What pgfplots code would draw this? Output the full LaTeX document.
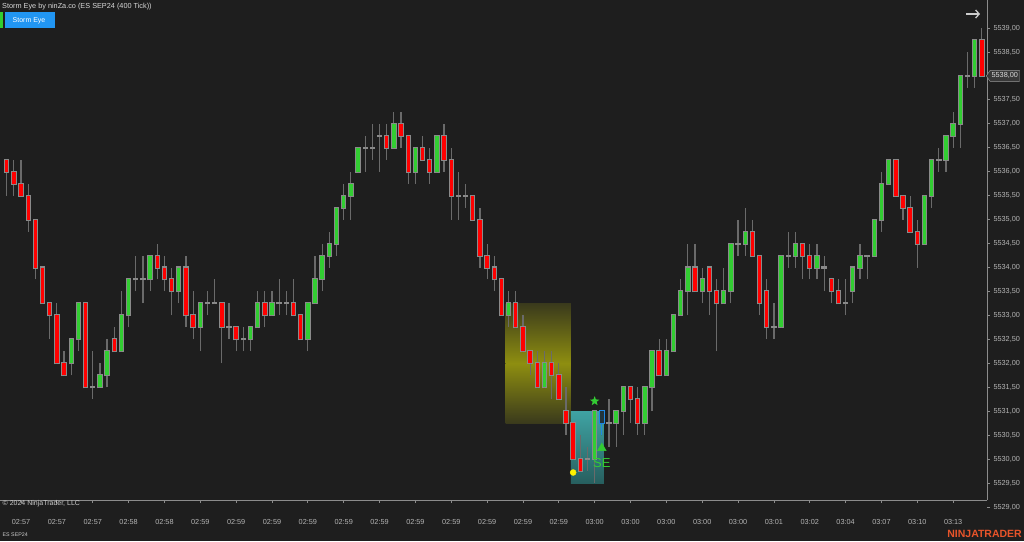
\documentclass[border=0pt]{standalone}
\usepackage{fontspec}
\setmainfont{Liberation Sans}
\usepackage{pgfplots}
\pgfplotsset{compat=1.18}
\usepackage{pgfplotstable}
\usetikzlibrary{arrows.meta,shapes.symbols}

\definecolor{bg}{HTML}{1E1E1E}
\definecolor{axisgray}{HTML}{8C8C8C}
\definecolor{lbl}{HTML}{B4B4B4}
\definecolor{upc}{HTML}{32CD32}
\definecolor{dnc}{HTML}{FF0000}
\definecolor{wickc}{HTML}{6A6A6A}
\definecolor{outl}{HTML}{8A8A8A}
\definecolor{bluec}{HTML}{1E88E5}
\definecolor{blueinner}{HTML}{22343C}
\definecolor{btnblue}{HTML}{2196F3}
\definecolor{logoc}{HTML}{E8542A}
\definecolor{yelA}{HTML}{3A3A1C}
\definecolor{yelB}{HTML}{8E8E10}
\definecolor{tealA}{HTML}{3FA3A3}
\definecolor{tealB}{HTML}{275F5F}
\definecolor{sigc}{HTML}{33CC33}
\definecolor{pxfill}{HTML}{383838}
\definecolor{pxdraw}{HTML}{9A9A9A}
\definecolor{pxtext}{HTML}{DCDCDC}

\pgfdeclareplotmark{fstar}{%
  \pgfpathmoveto{\pgfpointpolar{90}{\pgfplotmarksize}}%
  \pgfpathlineto{\pgfpointpolar{126}{0.42\pgfplotmarksize}}%
  \pgfpathlineto{\pgfpointpolar{162}{\pgfplotmarksize}}%
  \pgfpathlineto{\pgfpointpolar{198}{0.42\pgfplotmarksize}}%
  \pgfpathlineto{\pgfpointpolar{234}{\pgfplotmarksize}}%
  \pgfpathlineto{\pgfpointpolar{270}{0.42\pgfplotmarksize}}%
  \pgfpathlineto{\pgfpointpolar{306}{\pgfplotmarksize}}%
  \pgfpathlineto{\pgfpointpolar{342}{0.42\pgfplotmarksize}}%
  \pgfpathlineto{\pgfpointpolar{18}{\pgfplotmarksize}}%
  \pgfpathlineto{\pgfpointpolar{54}{0.42\pgfplotmarksize}}%
  \pgfpathclose
  \pgfusepathqfill}

\pgfplotsset{candle/.style={only marks, mark size=0pt, mark options={draw=none, fill=none},
  error bars/y dir=plus, error bars/y explicit, error bars/error mark=none}}

\pgfplotstableread{
x o h l c
1 5536.25 5536.25 5535.5 5536.0
2 5536.0 5536.25 5535.5 5535.75
3 5535.75 5536.25 5535.5 5535.5
4 5535.5 5535.75 5534.75 5535.0
5 5535.0 5535.0 5533.75 5534.0
6 5534.0 5534.0 5533.25 5533.25
7 5533.25 5533.25 5532.5 5533.0
8 5533.0 5533.25 5532.0 5532.0
9 5532.0 5532.25 5531.75 5531.75
10 5532.0 5532.5 5531.75 5532.5
11 5532.5 5533.25 5532.25 5533.25
12 5533.25 5533.25 5531.5 5531.5
13 5531.5 5532.25 5531.25 5531.5
14 5531.5 5532.0 5531.5 5531.75
15 5531.75 5532.5 5531.5 5532.25
16 5532.5 5532.75 5532.25 5532.25
17 5532.25 5533.5 5532.25 5533.0
18 5533.0 5533.75 5532.75 5533.75
19 5533.75 5534.25 5533.5 5533.75
20 5533.75 5534.25 5533.25 5533.75
21 5533.75 5534.25 5533.5 5534.25
22 5534.25 5534.5 5533.75 5534.0
23 5534.0 5534.25 5533.5 5533.75
24 5533.75 5534.0 5533.0 5533.5
25 5533.5 5534.0 5533.25 5534.0
26 5534.0 5534.25 5532.75 5533.0
27 5533.0 5533.5 5532.5 5532.75
28 5532.75 5533.25 5532.25 5533.25
29 5533.25 5533.5 5533.0 5533.25
30 5533.25 5533.75 5533.25 5533.25
31 5533.25 5533.25 5532.0 5532.75
32 5532.75 5533.25 5532.5 5532.75
33 5532.75 5532.75 5532.25 5532.5
34 5532.5 5532.75 5532.25 5532.5
35 5532.5 5532.75 5532.25 5532.75
36 5532.75 5533.5 5532.75 5533.25
37 5533.25 5533.5 5532.75 5533.0
38 5533.0 5533.5 5533.0 5533.25
39 5533.25 5533.75 5533.0 5533.25
40 5533.25 5533.5 5533.0 5533.25
41 5533.25 5533.75 5533.0 5533.0
42 5533.0 5533.0 5532.5 5532.5
43 5532.5 5533.25 5532.25 5533.25
44 5533.25 5534.25 5533.25 5533.75
45 5533.75 5534.5 5533.5 5534.25
46 5534.25 5534.75 5534.0 5534.5
47 5534.5 5535.25 5534.25 5535.25
48 5535.25 5535.75 5535.0 5535.5
49 5535.5 5536.0 5535.0 5535.75
50 5536.0 5536.5 5536.0 5536.5
51 5536.5 5536.75 5536.0 5536.5
52 5536.5 5537.0 5536.25 5536.5
53 5536.75 5537.0 5536.0 5536.75
54 5536.75 5537.0 5536.25 5536.5
55 5536.5 5537.25 5536.5 5537.0
56 5537.0 5537.25 5536.5 5536.75
57 5536.75 5536.75 5535.75 5536.0
58 5536.0 5536.5 5535.75 5536.5
59 5536.5 5536.75 5536.25 5536.25
60 5536.25 5536.5 5535.75 5536.0
61 5536.0 5536.75 5536.0 5536.75
62 5536.75 5537.0 5536.0 5536.25
63 5536.25 5536.5 5535.0 5535.5
64 5535.5 5536.0 5535.0 5535.5
65 5535.5 5535.75 5535.25 5535.5
66 5535.5 5535.5 5535.0 5535.0
67 5535.0 5535.25 5534.0 5534.25
68 5534.25 5534.5 5533.75 5534.0
69 5534.0 5534.25 5533.5 5533.75
70 5533.75 5533.75 5533.0 5533.0
71 5533.0 5533.5 5532.75 5533.25
72 5533.25 5533.5 5532.75 5532.75
73 5532.75 5533.0 5532.25 5532.25
74 5532.25 5532.25 5531.75 5532.0
75 5532.0 5532.25 5531.5 5531.5
76 5531.5 5532.25 5531.5 5532.0
77 5532.0 5532.25 5531.25 5531.75
78 5531.75 5532.0 5531.25 5531.25
79 5531.0 5531.5 5530.5 5530.75
80 5530.75 5530.75 5530.0 5530.0
81 5530.0 5530.5 5529.75 5529.75
82 5530.0 5530.25 5529.75 5530.0
83 5530.0 5531.0 5529.5 5531.0
84 5531.0 5531.0 5530.5 5530.75
85 5530.75 5531.25 5530.25 5530.75
86 5530.75 5531.0 5530.25 5531.0
87 5531.0 5531.5 5530.5 5531.5
88 5531.5 5531.5 5530.75 5531.25
89 5531.25 5531.5 5530.5 5530.75
90 5530.75 5531.5 5530.5 5531.5
91 5531.5 5532.25 5531.0 5532.25
92 5532.25 5532.5 5531.75 5531.75
93 5531.75 5532.5 5531.75 5532.25
94 5532.25 5533.0 5532.25 5533.0
95 5533.0 5533.75 5533.0 5533.5
96 5533.5 5534.5 5533.0 5534.0
97 5534.0 5534.5 5533.5 5533.5
98 5533.5 5534.0 5533.25 5533.75
99 5534.0 5534.0 5533.0 5533.5
100 5533.5 5533.75 5532.25 5533.25
101 5533.25 5534.0 5533.25 5533.5
102 5533.5 5534.5 5533.25 5534.5
103 5534.5 5535.0 5534.25 5534.5
104 5534.5 5535.25 5534.25 5534.75
105 5534.75 5535.0 5534.25 5534.25
106 5534.25 5534.25 5533.0 5533.25
107 5533.5 5533.75 5532.5 5532.75
108 5532.75 5533.25 5532.5 5532.75
109 5532.75 5534.25 5532.75 5534.25
110 5534.25 5534.75 5534.0 5534.25
111 5534.25 5534.75 5534.0 5534.5
112 5534.5 5534.5 5533.75 5534.25
113 5534.25 5534.5 5533.75 5534.0
114 5534.0 5534.5 5533.75 5534.25
115 5534.0 5534.25 5533.5 5534.0
116 5533.75 5533.75 5533.25 5533.5
117 5533.5 5533.75 5533.25 5533.25
118 5533.25 5533.75 5533.0 5533.25
119 5533.5 5534.0 5533.25 5534.0
120 5534.0 5534.5 5533.75 5534.25
121 5534.25 5534.25 5533.75 5534.25
122 5534.25 5535.0 5534.25 5535.0
123 5535.0 5536.0 5534.75 5535.75
124 5535.75 5536.25 5535.75 5536.25
125 5536.25 5536.25 5535.5 5535.5
126 5535.5 5535.5 5535.0 5535.25
127 5535.25 5535.5 5534.75 5534.75
128 5534.75 5535.0 5534.0 5534.5
129 5534.5 5535.5 5534.5 5535.5
130 5535.5 5536.25 5535.25 5536.25
131 5536.25 5536.5 5536.0 5536.25
132 5536.25 5536.75 5536.0 5536.75
133 5536.75 5537.25 5536.5 5537.0
134 5537.0 5538.0 5536.5 5538.0
135 5538.0 5538.5 5537.75 5538.0
136 5538.0 5538.75 5537.75 5538.75
137 5538.75 5539.0 5538.0 5538.0
}\candles

\begin{document}
\begin{tikzpicture}[x=1pt,y=1pt]
\useasboundingbox (0,0) rectangle (1024,541);
\fill[bg] (0,0) rectangle (1024,541);

\begin{axis}[
  at={(0pt,41pt)}, anchor=south west, scale only axis,
  width=987pt, height=500pt,
  xmin=0.066, xmax=137.72, ymin=5529.146, ymax=5539.585,
  axis x line*=bottom, axis y line*=right,
  axis line style={draw=axisgray, line width=0.8pt},
  ytick=\empty,
  xtick={3,8,...,133},
  xticklabels={02:57,02:57,02:57,02:58,02:58,02:59,02:59,02:59,02:59,02:59,02:59,02:59,02:59,02:59,02:59,02:59,03:00,03:00,03:00,03:00,03:00,03:01,03:02,03:04,03:07,03:10,03:13},
  tick align=outside, major tick length=3pt,
  tick style={draw=axisgray, line width=0.8pt},
  xticklabel style={font=\fontsize{7.3}{9}\selectfont, text=lbl, yshift=-12.5pt},
]
% signal zones (two halves so the brighter band sits in the middle)
\addplot[draw=none, shading=axis, top color=yelA, bottom color=yelB]
  coordinates {(70.6,5532.0) (79.7,5532.0) (79.7,5533.25) (70.6,5533.25)};
\addplot[draw=none, shading=axis, top color=yelB, bottom color=yelA]
  coordinates {(70.6,5530.75) (79.7,5530.75) (79.7,5532.0) (70.6,5532.0)};
\addplot[draw=none, shading=axis, top color=tealA, bottom color=tealB]
  coordinates {(79.7,5529.5) (84.3,5529.5) (84.3,5531.0) (79.7,5531.0)};
% wicks
\addplot[candle, error bars/error bar style={draw=wickc, line width=1.2pt}]
  table[x=x, y=l, y error plus expr={\thisrow{h}-\thisrow{l}}] {\candles};
% body outlines
\addplot[candle, error bars/error bar style={draw=outl, line width=5.4pt}]
  table[x=x, y expr={min(\thisrow{o},\thisrow{c})-0.021}, y error plus expr={abs(\thisrow{o}-\thisrow{c})+0.042}] {\candles};
% up bodies
\addplot[candle, error bars/error bar style={draw=upc, line width=3.4pt}]
  table[x=x, y=o, y error plus expr={max(\thisrow{c}-\thisrow{o},0)}] {\candles};
% down bodies
\addplot[candle, error bars/error bar style={draw=dnc, line width=3.4pt}]
  table[x=x, y=c, y error plus expr={max(\thisrow{o}-\thisrow{c},0)}] {\candles};
% blue candle
\addplot[candle, error bars/error bar style={draw=bluec, line width=1.2pt}]
  coordinates {(84,5530.5) +- (0,0.5)};
\addplot[candle, error bars/error bar style={draw=bluec, line width=5.4pt}]
  coordinates {(84,5530.729) +- (0,0.292)};
\addplot[candle, error bars/error bar style={draw=blueinner, line width=3.4pt}]
  coordinates {(84,5530.75) +- (0,0.25)};
% signals
\addplot[only marks, mark=*, mark size=3pt, color=yellow, mark options={fill=yellow, draw=none}]
  coordinates {(80,5529.72)};
\addplot[only marks, mark=fstar, mark size=5pt, color=sigc, mark options={fill=sigc}]
  coordinates {(83,5531.21)};
\addplot[only marks, mark=triangle*, mark size=5pt, color=sigc, mark options={fill=sigc, draw=none}]
  coordinates {(84,5530.23)};
\node[text=sigc, font=\fontsize{13}{14}\selectfont, inner sep=0pt] at (axis cs:84,5529.91) {SE};
\end{axis}

\begin{axis}[
  at={(0pt,29.2pt)}, anchor=south west, scale only axis,
  width=987pt, height=511.8pt,
  xmin=0.066, xmax=137.72, ymin=5528.9, ymax=5539.585,
  axis x line=none, axis y line*=right,
  y axis line style={draw=none},
  xtick=\empty,
  ytick={5529,5529.5,...,5537.5,5538.5,5539},
  extra y ticks={5538},
  tick align=outside, major tick length=3pt,
  tick style={draw=axisgray, line width=0.8pt},
  yticklabel style={font=\fontsize{7.3}{9}\selectfont, text=lbl, anchor=west, xshift=0pt,
    /pgf/number format/fixed, /pgf/number format/fixed zerofill, /pgf/number format/precision=2,
    /pgf/number format/use comma, /pgf/number format/1000 sep={}, /pgf/number format/assume math mode=true},
  extra y tick style={yticklabel style={/tikz/shape=signal, /tikz/signal to=west, /tikz/signal pointer angle=110,
    /tikz/fill=pxfill, /tikz/draw=pxdraw, /tikz/text=pxtext, /tikz/inner sep=1.5pt, /tikz/minimum height=11pt, /tikz/xshift=-4pt}},
]
\end{axis}

% header
\node[anchor=west, text=white!85!black, font=\fontsize{7.3}{9}\selectfont, inner sep=0pt] at (2,534.7) {Storm Eye by ninZa.co (ES SEP24 (400 Tick))};
\fill[upc] (0,512.7) rectangle (3.3,528.7);
\fill[btnblue] (5,512.7) rectangle (55,528.7);
\node[text=white, font=\fontsize{7}{8}\selectfont, inner sep=0pt] at (29,520.7) {Storm Eye};
\draw[white!80!black, line width=1.3pt, -{Straight Barb[length=3.5pt, width=8pt]}] (966,527) -- (980,527);
% footer
\node[anchor=west, text=white!80!black, font=\fontsize{7}{8}\selectfont, inner sep=0pt] at (2.5,37.7) {© 2024 NinjaTrader, LLC};
\node[anchor=west, text=white!80!black, font=\fontsize{5.3}{6}\selectfont, inner sep=0pt] at (2.5,6.7) {ES SEP24};
\node[anchor=east, text=logoc, font=\bfseries\fontsize{10.5}{12}\selectfont, inner sep=0pt] at (1022,7) {NINJATRADER};
\end{tikzpicture}
\end{document}
